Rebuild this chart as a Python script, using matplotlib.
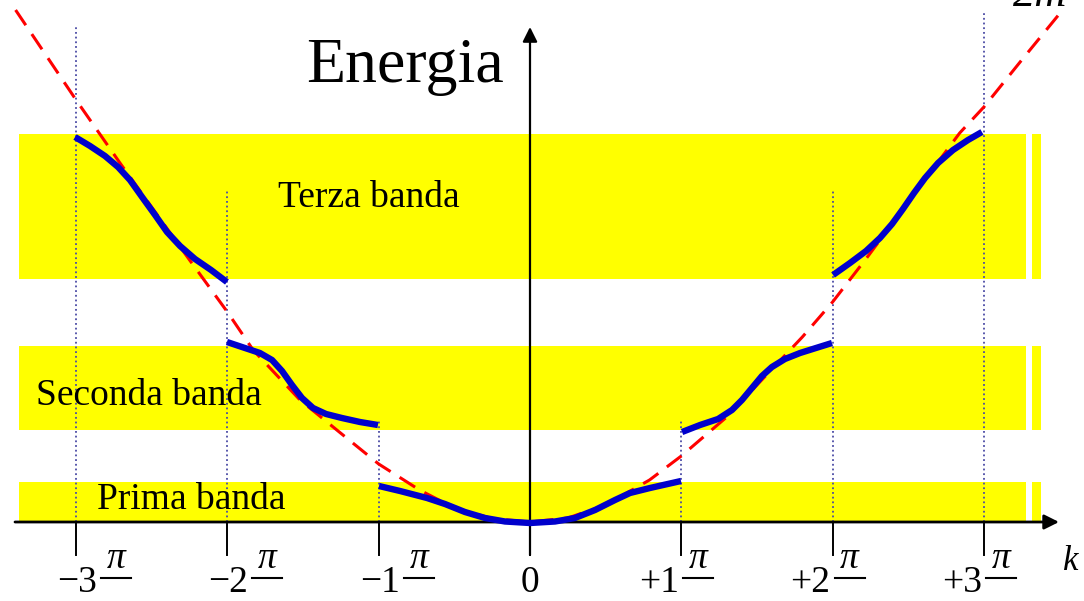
import numpy as np
import matplotlib.pyplot as plt

# --- data (k in units of pi/a, energy in arbitrary units) ---
# free-electron parabola (dashed)
free_k = [-3.40, -3.00, -2.71, -2.25, -2.00, -1.83, -1.52, -1.22, -1.00, -0.73,
          -0.50, -0.25, 0.00, 0.25, 0.50, 0.79, 1.00, 1.30, 1.55, 1.80, 2.00,
          2.23, 2.50, 2.84, 3.00, 3.25, 3.52]
free_E = [5.12, 4.22, 3.59, 2.62, 2.10, 1.72, 1.22, 0.85, 0.58, 0.32,
          0.14, 0.035, 0.00, 0.04, 0.17, 0.42, 0.66, 1.05, 1.45, 1.85, 2.20,
          2.65, 3.20, 3.89, 4.15, 4.62, 5.12]

# energy bands (blue), one segment per zone
band_k = [
    [-3.007, -2.908, -2.809, -2.723, -2.644, -2.564, -2.478, -2.399, -2.313,
     -2.214, -2.108, -2.003],
    [-2.003, -1.884, -1.785, -1.705, -1.639, -1.573, -1.507, -1.434, -1.348,
     -1.243, -1.124, -1.005],
    [-0.998, -0.859, -0.681, -0.562, -0.430, -0.297, -0.165, 0.0, 0.165,
     0.297, 0.430, 0.562, 0.661, 0.793, 0.998],
    [1.005, 1.124, 1.243, 1.335, 1.401, 1.467, 1.533, 1.599, 1.685, 1.785,
     1.890, 1.996],
    [2.003, 2.115, 2.221, 2.313, 2.393, 2.465, 2.538, 2.611, 2.697, 2.796,
     2.895, 2.987],
]
band_E = [
    [3.85, 3.76, 3.66, 3.55, 3.42, 3.25, 3.07, 2.90, 2.76, 2.63, 2.52, 2.40],
    [1.80, 1.74, 1.69, 1.62, 1.51, 1.37, 1.24, 1.14, 1.08, 1.04, 1.00, 0.97],
    [0.36, 0.31, 0.24, 0.18, 0.10, 0.04, 0.005, -0.01, 0.005, 0.04, 0.12,
     0.22, 0.29, 0.34, 0.41],
    [0.90, 0.97, 1.03, 1.12, 1.22, 1.34, 1.46, 1.55, 1.63, 1.69, 1.74, 1.79],
    [2.47, 2.59, 2.71, 2.84, 2.98, 3.13, 3.29, 3.44, 3.59, 3.72, 3.82, 3.90],
]

# allowed energy ranges (yellow stripes) and their names
allowed_lo = [0.01, 0.92, 2.43]
allowed_hi = [0.40, 1.76, 3.88]
band_names = ['Prima banda', 'Seconda banda', 'Terza banda']

tick_k = [-3, -2, -1, 0, 1, 2, 3]
tick_num = ['\u22123', '\u22122', '\u22121', '0', '+1', '+2', '+3']
zone_top = {-3: 4.95, -2: 3.33, -1: 1.03, 1: 1.03, 2: 3.33, 3: 5.11}

# pixel <-> data helpers for the 1084x601 canvas
PX_K = 151.3
PX_E = 100.0
def kx(px):
    return (px - 530) / PX_K
def ey(py):
    return (522 - py) / PX_E

fig = plt.figure(figsize=(10.84, 6.01), dpi=100)
ax = fig.add_axes([0, 0, 1, 1])
ax.set_xlim(kx(0), kx(1084))
ax.set_ylim(ey(601), ey(0))
ax.axis('off')

serif = 'Liberation Serif'

# yellow stripes
for lo, hi in zip(allowed_lo, allowed_hi):
    ax.fill_between([kx(19), kx(1026)], lo, hi, color='#ffff00', lw=0, zorder=1)
    ax.fill_between([kx(1032), kx(1041)], lo, hi, color='#ffff00', lw=0, zorder=1)

# zone boundaries
for k in tick_k:
    if k == 0:
        continue
    ax.plot([k, k], [0, zone_top[k]], color='#4b4ba5', lw=1.3,
            linestyle=(0, (1, 1.6)), zorder=2)

# axes with arrows
ax.annotate('', xy=(kx(1059), 0), xytext=(kx(15), 0),
            arrowprops=dict(arrowstyle='-|>', color='black', lw=2,
                            mutation_scale=22, shrinkA=0, shrinkB=0), zorder=3)
ax.annotate('', xy=(0, ey(27)), xytext=(0, ey(555)),
            arrowprops=dict(arrowstyle='-|>', color='black', lw=1.6,
                            mutation_scale=22, shrinkA=0, shrinkB=0), zorder=3)
for k in tick_k:
    ax.plot([k, k], [0, ey(555)], color='black', lw=1.4, zorder=3)

# free electron curve
ax.plot(free_k, free_E, color='#ff0000', lw=2.2, linestyle=(0, (6, 3.5)), zorder=4)

# bands
for ks, es in zip(band_k, band_E):
    ax.plot(ks, es, color='#0000cc', lw=4.6, solid_capstyle='butt',
            solid_joinstyle='round', zorder=5)

# labels
ax.text(kx(306), ey(82), 'Energia', family=serif, fontsize=46,
        ha='left', va='baseline', zorder=6)
name_pos = [(97, 509), (36, 405), (278, 207)]
for name, (px, py) in zip(band_names, name_pos):
    ax.text(kx(px), ey(py), name, family=serif, fontsize=27,
            ha='left', va='baseline', zorder=6)

ax.text(kx(1063), ey(570), 'k', family=serif, style='italic', fontsize=25,
        ha='left', va='baseline')
ax.text(kx(1013), ey(6), '2m', family=serif, style='italic', fontsize=32,
        ha='left', va='baseline')

for k, s in zip(tick_k, tick_num):
    px = 530 + k * PX_K
    if k == 0:
        ax.text(k, ey(592), s, family=serif, fontsize=27, ha='center', va='baseline')
        continue
    right = px + 21 if k < 0 else px - 2
    ax.text(kx(right), ey(592), s, family=serif, fontsize=27,
            ha='right', va='baseline')
    cx = right + 19
    ax.text(kx(cx), ey(568), '\u03c0', family=serif, style='italic',
            fontsize=27, ha='center', va='baseline')
    ax.plot([kx(cx - 15), kx(cx + 15)], [ey(578), ey(578)], color='black', lw=1.5)

fig.savefig('out.png', dpi=100)
